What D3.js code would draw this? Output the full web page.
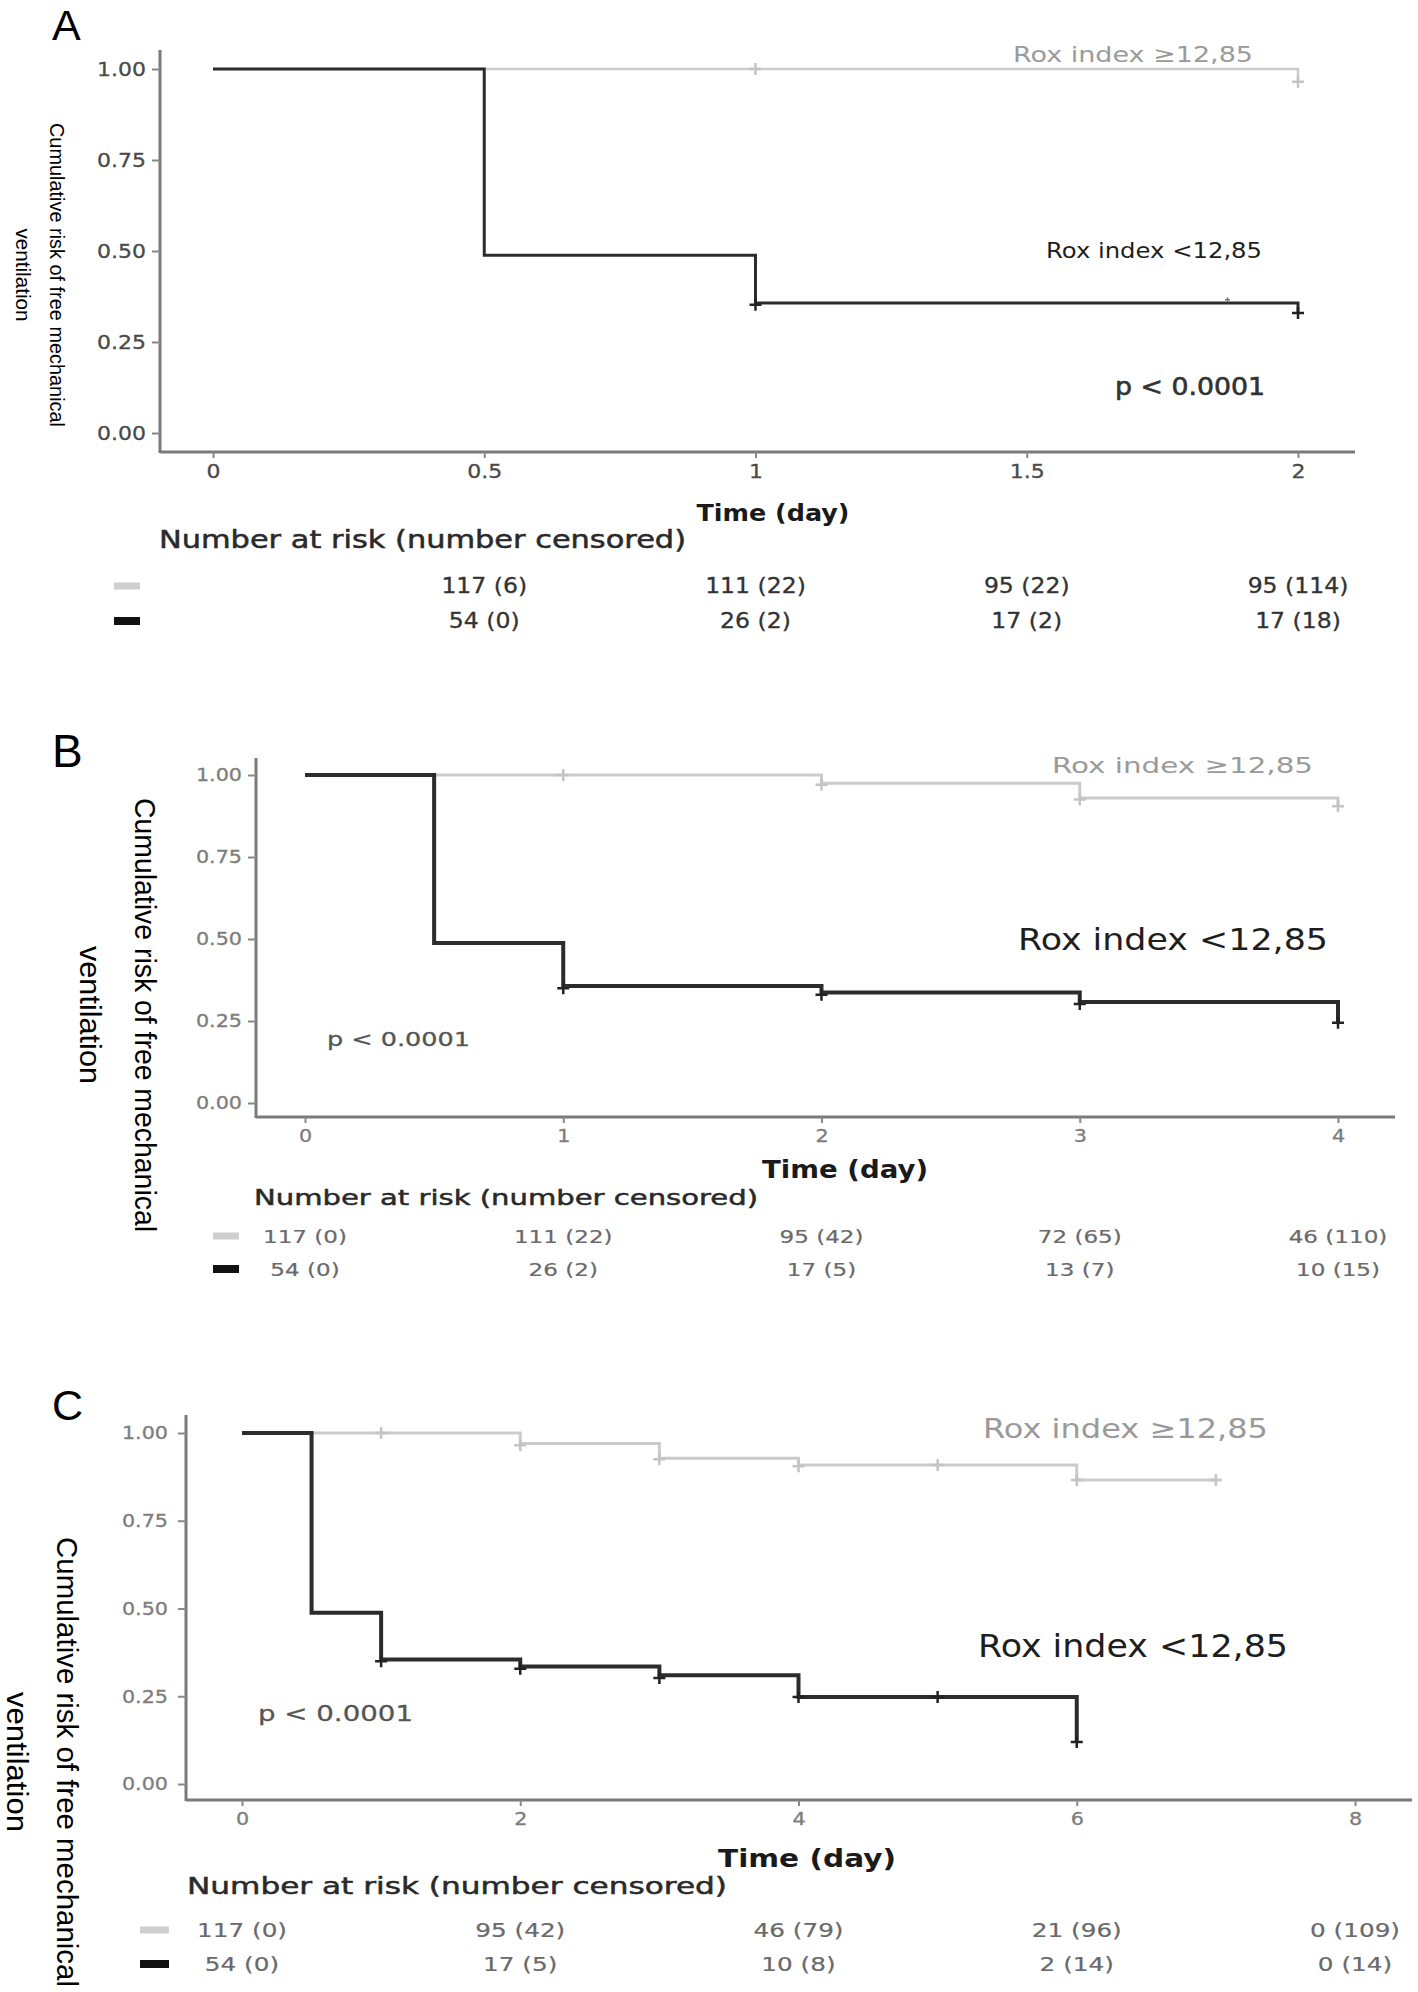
<!DOCTYPE html>
<html><head><meta charset="utf-8">
<script src="https://cdn.jsdelivr.net/npm/d3@7"></script>
<style>body{margin:0;background:#fff}</style>
</head><body>
<svg id="chart" width="1418" height="1992" xmlns="http://www.w3.org/2000/svg"></svg>
<script>
// ---------------- DATA ----------------
const yTicks = [0, 0.25, 0.5, 0.75, 1];
const yTickLabels = ["0.00", "0.25", "0.50", "0.75", "1.00"];
const groupHighLabel = "Rox index \u226512,85";
const groupLowLabel = "Rox index <12,85";
const pLabel = "p < 0.0001";
const xTitle = "Time (day)";
const yTitleLines = ["Cumulative risk of free mechanical", "ventilation"];
const riskTitle = "Number at risk (number censored)";
const panelLetters = ["A", "B", "C"];

// Panel A (follow-up 2 days)
const xTicksA = [0, 0.5, 1, 1.5, 2];
const xTickLabelsA = ["0", "0.5", "1", "1.5", "2"];
const highTimeA = [0, 2];
const highSurvA = [1.00, 0.965];
const lowTimeA = [0, 0.5, 1, 2];
const lowSurvA = [1.00, 0.488, 0.357, 0.330];
const highCensorTimeA = [1, 2];
const highCensorSurvA = [1.00, 0.965];
const lowCensorTimeA = [1, 1.87, 2];
const lowCensorSurvA = [0.352, 0.366, 0.330];
const riskTimesA = [0.5, 1, 1.5, 2];
const riskHighA = ["117 (6)", "111 (22)", "95 (22)", "95 (114)"];
const riskLowA = ["54 (0)", "26 (2)", "17 (2)", "17 (18)"];

// Panel B (follow-up 4 days)
const xTicksB = [0, 1, 2, 3, 4];
const xTickLabelsB = ["0", "1", "2", "3", "4"];
const highTimeB = [0, 2, 3, 4];
const highSurvB = [1.00, 0.975, 0.930, 0.905];
const lowTimeB = [0, 0.5, 1, 2, 3, 4];
const lowSurvB = [1.00, 0.488, 0.357, 0.337, 0.308, 0.245];
const highCensorTimeB = [1, 2, 3, 4];
const highCensorSurvB = [1.00, 0.970, 0.925, 0.905];
const lowCensorTimeB = [1, 2, 3, 4];
const lowCensorSurvB = [0.350, 0.330, 0.302, 0.245];
const riskTimesB = [0, 1, 2, 3, 4];
const riskHighB = ["117 (0)", "111 (22)", "95 (42)", "72 (65)", "46 (110)"];
const riskLowB = ["54 (0)", "26 (2)", "17 (5)", "13 (7)", "10 (15)"];

// Panel C (follow-up 8 days)
const xTicksC = [0, 2, 4, 6, 8];
const xTickLabelsC = ["0", "2", "4", "6", "8"];
const highTimeC = [0, 2, 3, 4, 6, 7];
const highSurvC = [1.00, 0.970, 0.928, 0.909, 0.866, 0.866];
const lowTimeC = [0, 0.5, 1, 2, 3, 4, 6];
const lowSurvC = [1.00, 0.488, 0.355, 0.335, 0.310, 0.248, 0.120];
const highCensorTimeC = [1, 2, 3, 4, 5, 6, 7];
const highCensorSurvC = [1.00, 0.965, 0.925, 0.905, 0.909, 0.866, 0.866];
const lowCensorTimeC = [1, 2, 3, 4, 5, 6];
const lowCensorSurvC = [0.350, 0.328, 0.302, 0.248, 0.248, 0.120];
const riskTimesC = [0, 2, 4, 6, 8];
const riskHighC = ["117 (0)", "95 (42)", "46 (79)", "21 (96)", "0 (109)"];
const riskLowC = ["54 (0)", "17 (5)", "10 (8)", "2 (14)", "0 (14)"];

// ---------------- STYLE / LAYOUT ----------------
const FONT = "'DejaVu Sans', Verdana, sans-serif";
const NARROW = "'Liberation Sans', Arial, sans-serif";
const colHigh = "#cbcbcb", colLow = "#2c2c2c";

const panels = [
  { letter: panelLetters[0], letterPos: [52, 40, 43],
    xTicks: xTicksA, xTickLabels: xTickLabelsA, xDomain: [0, 2],
    high: [highTimeA, highSurvA], low: [lowTimeA, lowSurvA],
    highC: [highCensorTimeA, highCensorSurvA], lowC: [lowCensorTimeA, lowCensorSurvA],
    riskTimes: riskTimesA, riskHigh: riskHighA, riskLow: riskLowA,
    axX: 160, axTop: 50, axY: 452, axRight: 1355, xr: [213, 1298], yr: [433, 69],
    tickFont: 20, tickFill: "#4a4a4a", tickStretch: 1.1, yPad: 6,
    lw: [2.5, 3],
    xt: { x: 773, y: 521, size: 23, w: 153 },
    rt: { x: 159, y: 548, size: 24, w: 527 },
    rows: [586, 621], sw: [114, 140], rFont: 21, rStretch: 1.12, rFill: "#333", rStroke: 0.3,
    yt: { x1: 57, x2: 23, yc: 275, size: 20, w1: 304, w2: 93 },
    lh: { x: 1013, y: 62, size: 22, w: 240 },
    ll: { x: 1046, y: 258, size: 21, w: 216 },
    pv: { x: 1115, y: 395, size: 24, w: 150, fill: "#333", sw: 0.6 } },
  { letter: panelLetters[1], letterPos: [52, 767, 46],
    xTicks: xTicksB, xTickLabels: xTickLabelsB, xDomain: [0, 4],
    high: [highTimeB, highSurvB], low: [lowTimeB, lowSurvB],
    highC: [highCensorTimeB, highCensorSurvB], lowC: [lowCensorTimeB, lowCensorSurvB],
    riskTimes: riskTimesB, riskHigh: riskHighB, riskLow: riskLowB,
    axX: 256, axTop: 758, axY: 1117, axRight: 1395, xr: [305, 1338], yr: [1103, 775],
    tickFont: 18, tickFill: "#7d7d7d", tickStretch: 1.15, yPad: 6,
    lw: [3, 4],
    xt: { x: 845, y: 1178, size: 24, w: 166 },
    rt: { x: 254, y: 1205, size: 22, w: 504 },
    rows: [1236, 1269], sw: [213, 239], rFont: 18, rStretch: 1.28, rFill: "#6a6a6a", rStroke: 0.2,
    yt: { x1: 145, x2: 90, yc: 1015, size: 30, w1: 434, w2: 138 },
    lh: { x: 1052, y: 773, size: 22, w: 261 },
    ll: { x: 1018, y: 950, size: 30, w: 310 },
    pv: { x: 327, y: 1046, size: 20, w: 143, fill: "#555", sw: 0.3 } },
  { letter: panelLetters[2], letterPos: [52, 1420, 43],
    xTicks: xTicksC, xTickLabels: xTickLabelsC, xDomain: [0, 8],
    high: [highTimeC, highSurvC], low: [lowTimeC, lowSurvC],
    highC: [highCensorTimeC, highCensorSurvC], lowC: [lowCensorTimeC, lowCensorSurvC],
    riskTimes: riskTimesC, riskHigh: riskHighC, riskLow: riskLowC,
    axX: 186, axTop: 1415, axY: 1800, axRight: 1412, xr: [242, 1355], yr: [1784, 1433],
    tickFont: 18, tickFill: "#7d7d7d", tickStretch: 1.15, yPad: 10,
    lw: [3, 4],
    xt: { x: 807, y: 1867, size: 25, w: 178 },
    rt: { x: 187, y: 1894, size: 23, w: 540 },
    rows: [1930, 1964], sw: [140, 169], rFont: 19, rStretch: 1.3, rFill: "#6a6a6a", rStroke: 0.2,
    yt: { x1: 67, x2: 17, yc: 1762, size: 30, w1: 450, w2: 140 },
    lh: { x: 983, y: 1438, size: 26, w: 285 },
    ll: { x: 978, y: 1657, size: 32, w: 310 },
    pv: { x: 258, y: 1721, size: 22, w: 155, fill: "#555", sw: 0.3 } }
];

const svg = d3.select("#chart");
svg.append("rect").attr("width", 1418).attr("height", 1992).attr("fill", "#fff");

function txt(g, s, x, y, o) {
  const t = g.append("text").attr("x", x).attr("y", y).text(s)
    .attr("font-family", o.family || FONT)
    .attr("font-size", o.size)
    .attr("fill", o.fill || "#000")
    .attr("text-anchor", o.anchor || "start")
    .attr("font-weight", o.weight || "normal");
  if (o.db) t.attr("dominant-baseline", o.db);
  if (o.stroke) t.attr("stroke", o.fill || "#000").attr("stroke-width", o.stroke);
  if (o.w) t.attr("textLength", o.w).attr("lengthAdjust", "spacingAndGlyphs");
  if (o.stretch) {
    const L = t.node().getComputedTextLength();
    t.attr("textLength", L * o.stretch).attr("lengthAdjust", "spacingAndGlyphs");
  }
  if (o.rotate) t.attr("transform", `rotate(${o.rotate},${x},${y})`);
  return t;
}

function stretchTexts(sel, s) {
  sel.each(function () {
    const L = this.getComputedTextLength();
    d3.select(this).attr("textLength", L * s).attr("lengthAdjust", "spacingAndGlyphs");
  });
}

panels.forEach(p => {
  const g = svg.append("g");
  const x = d3.scaleLinear().domain(p.xDomain).range(p.xr);
  const y = d3.scaleLinear().domain([0, 1]).range(p.yr);

  // panel letter
  txt(g, p.letter, p.letterPos[0], p.letterPos[1], { size: p.letterPos[2], family: NARROW, fill: "#000" });

  // axes lines
  g.append("line").attr("x1", p.axX).attr("x2", p.axX).attr("y1", p.axTop).attr("y2", p.axY + 1)
    .attr("stroke", "#7a7a7a").attr("stroke-width", 3);
  g.append("line").attr("x1", p.axX).attr("x2", p.axRight).attr("y1", p.axY).attr("y2", p.axY)
    .attr("stroke", "#7a7a7a").attr("stroke-width", 3);

  // y axis ticks
  const ya = g.append("g").attr("transform", `translate(${p.axX},0)`)
    .call(d3.axisLeft(y).tickValues(yTicks).tickFormat((d, i) => yTickLabels[i]).tickSize(8).tickPadding(p.yPad));
  ya.select(".domain").remove();
  ya.selectAll(".tick line").attr("stroke", "#888").attr("stroke-width", 2);
  ya.selectAll(".tick text").attr("font-family", FONT).attr("font-size", p.tickFont).attr("fill", p.tickFill)
    .attr("stroke", p.tickFill).attr("stroke-width", 0.3);
  stretchTexts(ya.selectAll(".tick text"), p.tickStretch);

  // x axis ticks
  const xa = g.append("g").attr("transform", `translate(0,${p.axY})`)
    .call(d3.axisBottom(x).tickValues(p.xTicks).tickFormat((d, i) => p.xTickLabels[i]).tickSize(6).tickPadding(6));
  xa.select(".domain").remove();
  xa.selectAll(".tick line").attr("stroke", "#888").attr("stroke-width", 2);
  xa.selectAll(".tick text").attr("font-family", FONT).attr("font-size", p.tickFont).attr("fill", p.tickFill)
    .attr("stroke", p.tickFill).attr("stroke-width", 0.3);
  stretchTexts(xa.selectAll(".tick text"), p.tickStretch);

  // curves
  const line = d3.line().x(d => x(d[0])).y(d => y(d[1])).curve(d3.curveStepAfter);
  const hiPts = p.high[0].map((t, i) => [t, p.high[1][i]]);
  const loPts = p.low[0].map((t, i) => [t, p.low[1][i]]);
  g.append("path").attr("d", line(hiPts)).attr("fill", "none").attr("stroke", colHigh).attr("stroke-width", p.lw[0]);
  g.append("path").attr("d", line(loPts)).attr("fill", "none").attr("stroke", colLow).attr("stroke-width", p.lw[1]);

  // censor marks
  const cross = (cx, cy, r) => `M${cx - r},${cy}H${cx + r}M${cx},${cy - r}V${cy + r}`;
  p.highC[0].forEach((t, i) => {
    g.append("path").attr("d", cross(x(t), y(p.highC[1][i]), 6)).attr("stroke", "#c4c4c4").attr("stroke-width", 2.5).attr("fill", "none");
  });
  p.lowC[0].forEach((t, i) => {
    const r = (t % 1 === 0) ? 6 : 2.5;
    g.append("path").attr("d", cross(x(t), y(p.lowC[1][i]), r)).attr("stroke", r > 3 ? "#222" : "#777").attr("stroke-width", r > 3 ? 2.5 : 1.5).attr("fill", "none");
  });

  // labels inside plot
  txt(g, groupHighLabel, p.lh.x, p.lh.y, { size: p.lh.size, fill: "#9a9a9a", w: p.lh.w });
  txt(g, groupLowLabel, p.ll.x, p.ll.y, { size: p.ll.size, fill: "#1e1e1e", w: p.ll.w });
  txt(g, pLabel, p.pv.x, p.pv.y, { size: p.pv.size, fill: p.pv.fill, w: p.pv.w, stroke: p.pv.sw || null });

  // axis titles
  txt(g, xTitle, p.xt.x, p.xt.y, { size: p.xt.size, weight: "bold", anchor: "middle", fill: "#1a1a1a", w: p.xt.w });
  txt(g, yTitleLines[0], p.yt.x1, p.yt.yc, { size: p.yt.size, family: NARROW, anchor: "middle", db: "central", rotate: 90, w: p.yt.w1 });
  txt(g, yTitleLines[1], p.yt.x2, p.yt.yc, { size: p.yt.size, family: NARROW, anchor: "middle", db: "central", rotate: 90, w: p.yt.w2 });

  // risk table
  txt(g, riskTitle, p.rt.x, p.rt.y, { size: p.rt.size, fill: "#2a2a2a", w: p.rt.w, stroke: 0.5 });
  g.append("line").attr("x1", p.sw[0]).attr("x2", p.sw[1]).attr("y1", p.rows[0]).attr("y2", p.rows[0])
    .attr("stroke", "#cfcfcf").attr("stroke-width", 7);
  g.append("line").attr("x1", p.sw[0]).attr("x2", p.sw[1]).attr("y1", p.rows[1]).attr("y2", p.rows[1])
    .attr("stroke", "#111").attr("stroke-width", 8);
  p.riskTimes.forEach((t, i) => {
    txt(g, p.riskHigh[i], x(t), p.rows[0], { size: p.rFont, fill: p.rFill, anchor: "middle", db: "central", stretch: p.rStretch, stroke: p.rStroke });
    txt(g, p.riskLow[i], x(t), p.rows[1], { size: p.rFont, fill: p.rFill, anchor: "middle", db: "central", stretch: p.rStretch, stroke: p.rStroke });
  });
});
</script>
</body></html>
